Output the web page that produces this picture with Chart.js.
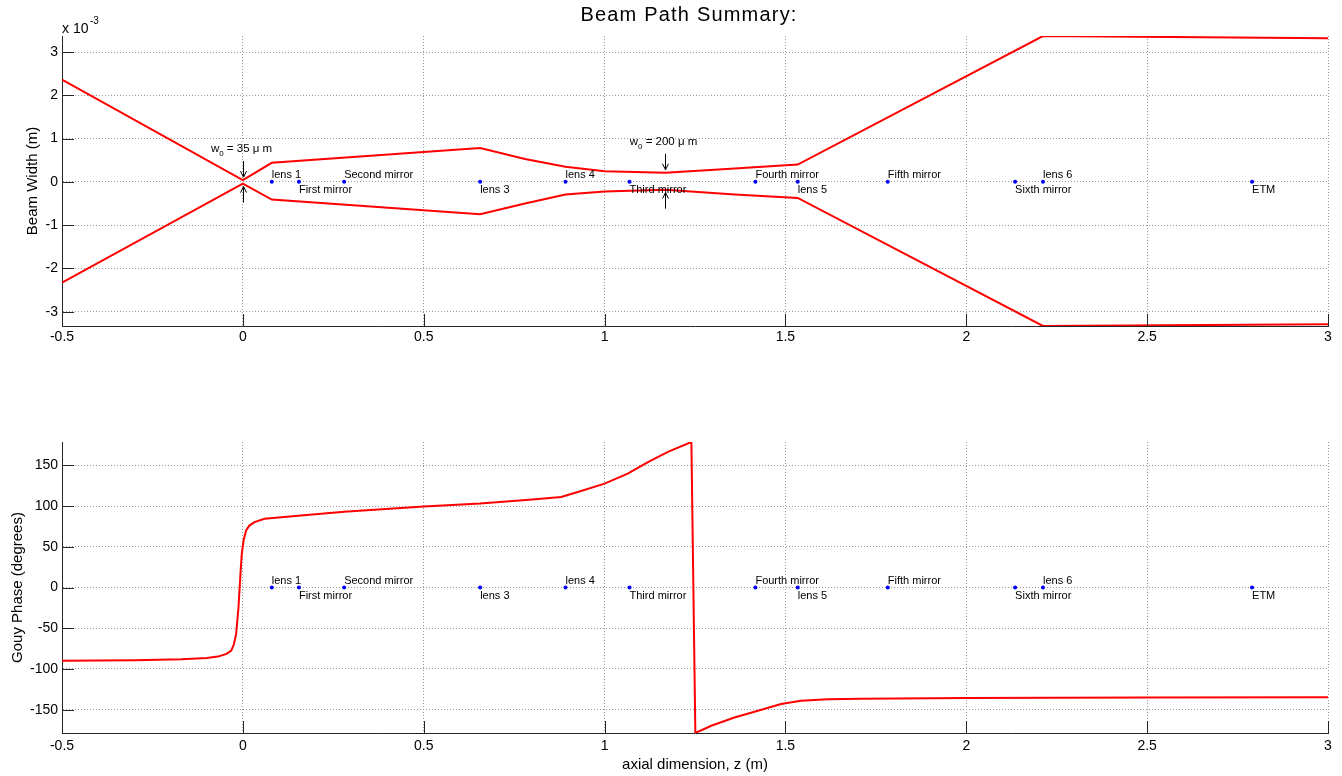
<!DOCTYPE html>
<html>
<head>
<meta charset="utf-8">
<script src="https://cdn.jsdelivr.net/npm/chart.js@4"></script>
<style>
  body { margin: 0; background: #fff; }
  canvas { position: absolute; left: 0; }
</style>
</head>
<body>
<canvas id="widthChart" width="1342" height="360" style="top:0"></canvas>
<canvas id="gouyChart" width="1342" height="376" style="top:400px"></canvas>
<script>
// axes
const xMin = -0.5, xMax = 3;
const xTicks = [-0.5, 0, 0.5, 1, 1.5, 2, 2.5, 3];
const widthTicks = [-3, -2, -1, 0, 1, 2, 3];      // units of 1e-3 m
const gouyTicks = [-150, -100, -50, 0, 50, 100, 150];

// beam width envelope (x 1e-3 m)
const zBeam     = [-0.5, 0.0, 0.08, 0.656, 0.78, 0.892, 1.0, 1.168, 1.36, 1.534, 2.212, 3.0];
const beamUpper = [2.36, 0.04, 0.44, 0.78, 0.53, 0.35, 0.245, 0.21, 0.31, 0.40, 3.37, 3.32];
const beamLower = [-2.33, -0.04, -0.41, -0.75, -0.50, -0.29, -0.22, -0.18, -0.29, -0.37, -3.33, -3.29];

// gouy phase (degrees)
const zGouy = [-0.5, -0.3, -0.17, -0.1, -0.069, -0.045, -0.032, -0.025, -0.0185, -0.012, -0.0066, -0.003,
  0.002, 0.009, 0.018, 0.032, 0.06, 0.161, 0.28, 0.5, 0.656, 0.8, 0.88, 0.935, 1.0, 1.064, 1.12, 1.175,
  1.240, 1.251, 1.295, 1.359, 1.424, 1.488, 1.543, 1.617, 1.709, 2.0, 2.5, 3.0];
const gouyPhase = [-89.8, -89.3, -88.2, -86.5, -84.8, -81.5, -77.5, -70, -57, -24, 17, 41,
  58, 70, 76, 80.3, 84.4, 88.5, 93, 99.5, 103, 108, 111, 118.4, 127.5, 139.8, 154, 166.4,
  178.6, -178.6, -169.7, -159.5, -151.2, -143, -139, -137.3, -136.5, -135.6, -135, -134.6];

// optical components along the path
const compNames = ['lens 1', 'First mirror', 'Second mirror', 'lens 3', 'lens 4', 'Third mirror',
  'Fourth mirror', 'lens 5', 'Fifth mirror', 'Sixth mirror', 'lens 6', 'ETM'];
const compZ = [0.080, 0.155, 0.280, 0.656, 0.892, 1.069, 1.417, 1.534, 1.783, 2.135, 2.212, 2.790];
const compAbove = [true, false, true, false, true, false, true, false, true, false, true, false];

// waist annotations
const waistZ = [0.0, 1.168];
const waistUpper = [0.04, 0.21];
const waistLower = [-0.04, -0.18];
const waistLabel = ['35', '200'];

const FONT = "'Liberation Sans', Arial, Helvetica, sans-serif";
const RED = 'rgb(255,0,0)';
const BLUE = 'rgb(0,0,255)';
const AXIS = '#262626';

const pts = (xs, ys) => xs.map((x, i) => ({ x: x, y: ys[i] }));

// inward tick marks like matlab
const matlabTicks = {
  id: 'matlabTicks',
  afterDraw(chart) {
    const { ctx, chartArea: a, scales: { x, y } } = chart;
    ctx.save();
    ctx.strokeStyle = AXIS;
    ctx.lineWidth = 1;
    ctx.beginPath();
    x.ticks.forEach(t => {
      const px = Math.round(x.getPixelForValue(t.value)) + 0.5;
      ctx.moveTo(px, a.bottom);
      ctx.lineTo(px, a.bottom - 12);
    });
    y.ticks.forEach(t => {
      const py = Math.round(y.getPixelForValue(t.value)) + 0.5;
      ctx.moveTo(a.left, py);
      ctx.lineTo(a.left + 12, py);
    });
    ctx.stroke();
    ctx.restore();
  }
};

const componentLabels = {
  id: 'componentLabels',
  afterDatasetsDraw(chart) {
    const { ctx, scales: { x, y } } = chart;
    const py = y.getPixelForValue(0);
    ctx.save();
    ctx.font = `11px ${FONT}`;
    ctx.fillStyle = '#000';
    ctx.textAlign = 'left';
    ctx.textBaseline = 'alphabetic';
    compNames.forEach((name, i) => {
      const px = x.getPixelForValue(compZ[i]);
      ctx.fillText(name, px, compAbove[i] ? py - 4 : py + 11);
    });
    ctx.restore();
  }
};

function drawArrow(ctx, x, yTail, yTip) {
  const dir = Math.sign(yTip - yTail);
  ctx.beginPath();
  ctx.moveTo(x, yTail);
  ctx.lineTo(x, yTip);
  ctx.moveTo(x - 3, yTip - dir * 6);
  ctx.lineTo(x, yTip);
  ctx.lineTo(x + 3, yTip - dir * 6);
  ctx.stroke();
}

const waistNotes = {
  id: 'waistNotes',
  afterDatasetsDraw(chart) {
    const { ctx, scales: { x, y } } = chart;
    ctx.save();
    ctx.strokeStyle = '#000';
    ctx.fillStyle = '#000';
    ctx.lineWidth = 1;
    waistZ.forEach((z, i) => {
      const px = Math.round(x.getPixelForValue(z)) + 0.5;
      const tipTop = y.getPixelForValue(waistUpper[i]) - 3;
      const tipBot = y.getPixelForValue(waistLower[i]) + 3;
      drawArrow(ctx, px, tipTop - 16, tipTop);
      drawArrow(ctx, px, tipBot + 16, tipBot);

      const base = tipTop - 16 - 9;
      const rest = ' = ' + waistLabel[i] + ' \u03bc m';
      ctx.font = `11.5px ${FONT}`;
      const wW = ctx.measureText('w').width;
      const rW = ctx.measureText(rest).width;
      ctx.font = `8px ${FONT}`;
      const sW = ctx.measureText('0').width;
      let left = px - 2 - (wW + sW + rW) / 2;
      ctx.textBaseline = 'alphabetic';
      ctx.textAlign = 'left';
      ctx.font = `11.5px ${FONT}`;
      ctx.fillText('w', left, base);
      ctx.font = `8px ${FONT}`;
      ctx.fillText('0', left + wW, base + 4);
      ctx.font = `11.5px ${FONT}`;
      ctx.fillText(rest, left + wW + sW, base);
    });
    ctx.restore();
  }
};

const header = {
  id: 'header',
  afterDraw(chart) {
    const { ctx, chartArea: a } = chart;
    ctx.save();
    ctx.fillStyle = '#000';
    ctx.textBaseline = 'alphabetic';
    ctx.textAlign = 'center';
    ctx.font = `20px ${FONT}`;
    ctx.letterSpacing = '1.2px';
    ctx.fillText('Beam Path Summary:', (a.left + a.right) / 2 - 6, 21);
    ctx.letterSpacing = '0px';
    ctx.textAlign = 'left';
    ctx.font = `14px ${FONT}`;
    ctx.fillText('x 10', a.left, 33);
    ctx.font = `10px ${FONT}`;
    ctx.fillText('-3', a.left + 28, 24);
    ctx.restore();
  }
};

function xScale(height, pad, title) {
  return {
    type: 'linear',
    min: xMin,
    max: xMax,
    afterBuildTicks: s => { s.ticks = xTicks.map(v => ({ value: v })); },
    afterFit: s => { s.height = height; },
    ticks: { font: { family: FONT, size: 14 }, color: '#000', padding: pad, maxRotation: 0, autoSkip: false,
      callback: v => String(v) },
    grid: { color: '#9a9a9a', lineWidth: 1, drawTicks: false },
    border: { display: true, color: AXIS, width: 1, dash: [1, 2] },
    title: title
  };
}

function yScale(min, max, tickList, titleText, titlePad) {
  return {
    type: 'linear',
    min: min,
    max: max,
    afterBuildTicks: s => { s.ticks = tickList.map(v => ({ value: v })); },
    afterFit: s => { s.width = 62; },
    ticks: { font: { family: FONT, size: 14 }, color: '#000', padding: 4, autoSkip: false,
      callback: v => String(v) },
    grid: { color: '#9a9a9a', lineWidth: 1, drawTicks: false },
    border: { display: true, color: AXIS, width: 1, dash: [1, 2] },
    title: { display: true, text: titleText, color: '#000', font: { family: FONT, size: 15 },
      padding: { top: titlePad, bottom: 0 } }
  };
}

const compDataset = {
  type: 'scatter',
  data: pts(compZ, compZ.map(() => 0)),
  pointRadius: 2,
  pointBackgroundColor: BLUE,
  pointBorderColor: BLUE,
  pointBorderWidth: 0,
  showLine: false
};

const lineStyle = { borderColor: RED, borderWidth: 2, pointRadius: 0, tension: 0, fill: false };

const common = {
  responsive: false,
  animation: false,
  events: [],
  plugins: { legend: { display: false }, tooltip: { enabled: false } }
};

new Chart(document.getElementById('widthChart'), {
  type: 'line',
  data: {
    datasets: [
      Object.assign({ data: pts(zBeam, beamUpper) }, lineStyle),
      Object.assign({ data: pts(zBeam, beamLower) }, lineStyle),
      Object.assign({}, compDataset)
    ]
  },
  options: Object.assign({}, common, {
    layout: { padding: { top: 36, right: 14, left: 0, bottom: 0 } },
    scales: {
      x: xScale(34, 3, { display: false }),
      y: yScale(-3.33, 3.37, widthTicks, 'Beam Width (m)', 24)
    }
  }),
  plugins: [componentLabels, waistNotes, matlabTicks, header]
});

new Chart(document.getElementById('gouyChart'), {
  type: 'line',
  data: {
    datasets: [
      Object.assign({ data: pts(zGouy, gouyPhase) }, lineStyle),
      Object.assign({}, compDataset)
    ]
  },
  options: Object.assign({}, common, {
    layout: { padding: { top: 42, right: 14, left: 0, bottom: 0 } },
    scales: {
      x: xScale(43, 5, { display: true, text: 'axial dimension, z (m)', color: '#000',
        font: { family: FONT, size: 15 }, padding: { top: 0, bottom: 2 } }),
      y: yScale(-178.6, 178.6, gouyTicks, 'Gouy Phase (degrees)', 9)
    }
  }),
  plugins: [componentLabels, matlabTicks]
});
</script>
</body>
</html>
